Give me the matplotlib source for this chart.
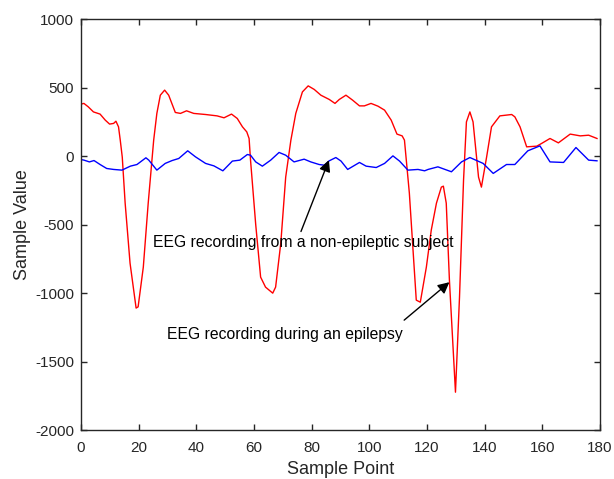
import numpy as np
import matplotlib
matplotlib.use("Agg")
import matplotlib.pyplot as plt

plt.rcParams['font.family'] = ['Liberation Sans', 'DejaVu Sans']
plt.rcParams['axes.unicode_minus'] = False

# EEG during an epilepsy (red)
seizure_x = [0, 1, 2.5, 4.3, 6.6, 8.4, 9.9, 11.3, 12.1, 13, 13.6, 14.3, 15.3, 17, 19.1,
             19.8, 21.6, 23.3, 25.2, 26.3, 27.5, 29, 30.4, 32.7, 34.5, 36.6, 39.1,
             43.2, 47.2, 49.6, 52.2, 54.2, 56, 57.5, 58.3, 58.8, 60.6, 62.3, 64, 66.5,
             67.5, 69.3, 71, 72.8, 74.5, 76.8, 78.8, 80.9, 83.2, 86.1, 88.1, 89.6,
             91.9, 94.2, 96.6, 98.3, 100.6, 103, 105.3, 107.6, 109.6, 111.4, 112.2,
             113.9, 116.3, 117.7, 119.8, 121.5, 123.3, 125, 125.7, 126.7, 127.8,
             129.9, 131.3, 132.7, 133.7, 134.9, 136, 137.9, 138.9, 140.7, 142.4,
             145.3, 149.4, 150.5, 152.3, 154.6, 158.1, 159.8, 162.7, 165.6, 169.7,
             173.2, 176.1, 179]
seizure_y = [380, 385, 360, 323, 307, 263, 234, 239, 255, 214, 117, -7, -343, -781, -1109,
             -1100, -810, -343, 117, 312, 445, 482, 445, 319, 312, 331, 312,
             304, 294, 280, 307, 275, 214, 177, 129, -29, -500, -883, -956, -1000,
             -956, -635, -153, 117, 312, 469, 513, 487, 445, 414, 385, 414,
             445, 409, 367, 367, 385, 365, 336, 263, 161, 148, 117,
             -270, -1051, -1066, -810, -540, -343, -226, -219, -343, -905,
             -1723, -1029, -175, 250, 323, 250, -153, -226, -7, 214,
             294, 304, 287, 214, 68, 73, 93, 129, 97, 161,
             148, 153, 129]

# EEG from a non-epileptic subject (blue)
normal_x = [0, 1, 2.9, 4.5, 6.6, 8.9, 11.3, 14.2, 17.1, 19.4, 22.5, 23.5, 26.3, 29.2,
            31.6, 33.9, 37, 39.7, 43.2, 46.1, 49.2, 52.5, 55.1, 57.7, 58.8, 60.6, 62.9,
            65.8, 68.7, 71, 73.9, 77.4, 79.7, 82.6, 84.4, 86.1, 88.4, 90.2, 92.5,
            96.6, 98.9, 102.4, 105.3, 108.2, 110.5, 113.4, 116.9, 119.2, 120.4,
            123.8, 128.5, 132, 134.9, 139.5, 143, 147.6, 150.5, 155, 159.2, 162.7,
            167.4, 171.7, 176.1, 179]
normal_y = [-25, -29, -42, -32, -61, -90, -97, -102, -73, -61, -12, -29, -102, -53,
            -32, -17, 39, -5, -53, -71, -107, -36, -29, 12, 7, -42, -73,
            -29, 27, 7, -42, -22, -42, -61, -66, -34, -10, -36, -97,
            -46, -73, -83, -53, 2, -36, -102, -97, -107, -97,
            -78, -114, -42, -10, -53, -126, -61, -61, 39, 75, -42,
            -46, 63, -29, -34]

xticks = np.arange(0, 181, 20)
yticks = np.arange(-2000, 1001, 500)

fig = plt.figure(figsize=(6.14, 4.79), dpi=100)
ax = fig.add_axes([0.132, 0.102, 0.845, 0.858])

ax.plot(seizure_x, seizure_y, color='#ff0000', lw=1)
ax.plot(normal_x, normal_y, color='#0000ff', lw=1)

ax.set_xlim(0, 180)
ax.set_ylim(-2000, 1000)
ax.set_xticks(xticks)
ax.set_yticks(yticks)
ax.tick_params(direction='in', top=True, right=True, length=4, width=1,
               labelsize=11, colors='#262626', pad=5)
ax.tick_params(axis='x', pad=8)
for s in ax.spines.values():
    s.set_color('#262626')
    s.set_linewidth(1)

ax.set_xlabel('Sample Point', fontsize=13, color='#262626', labelpad=4)
ax.set_ylabel('Sample Value', fontsize=13, color='#262626', labelpad=3)

arrow = dict(arrowstyle='-|>', color='k', lw=1, mutation_scale=17, shrinkA=0, shrinkB=0)
ax.annotate('', xy=(86, -29), xytext=(76.3, -550), arrowprops=arrow)
ax.text(25.1, -628, 'EEG recording from a non-epileptic subject', fontsize=11.3,
        va='center', ha='left')
ax.annotate('', xy=(127.8, -920), xytext=(112.1, -1197), arrowprops=arrow)
ax.text(29.9, -1299, 'EEG recording during an epilepsy', fontsize=11.3,
        va='center', ha='left')

fig.savefig('out.png', dpi=100)
